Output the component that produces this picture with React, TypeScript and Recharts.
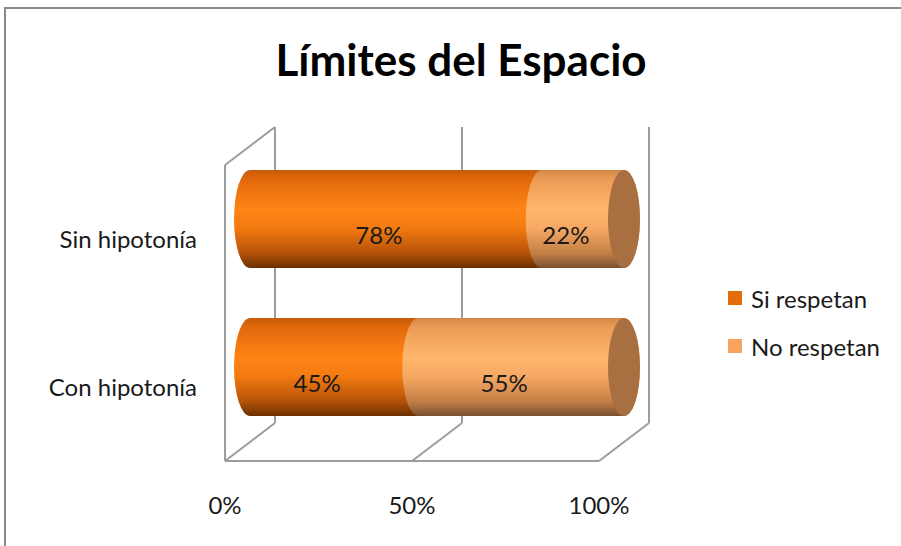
import React from 'react';
import { BarChart, Bar, XAxis, YAxis, CartesianGrid, Legend, LabelList } from 'recharts';

const categories = ['Sin hipotonía', 'Con hipotonía'];
const siRespetan = [78, 45];
const noRespetan = [22, 55];
const xTicks = [0, 50, 100];
const seriesNames = ['Si respetan', 'No respetan'];
const chartTitle = 'Límites del Espacio';

const data = categories.map((name, i) => ({ name, si: siRespetan[i], no: noRespetan[i] }));

const W = 901;
const H = 546;
const FONT = 'Lato, "Open Sans", sans-serif';
const WALL_DX = 50;
const WALL_DY = 38;
const BAR_DX = 25;
const BAR_DY = 20;
const CAP_RX = 16;
const LINE = '#9c9c9c';

const gridLine = (p: any) => {
  const x1 = p.x1;
  const top = Math.min(p.y1, p.y2);
  const bot = Math.max(p.y1, p.y2);
  const isFirst = p.index === 0 || Math.abs(x1 - p.x) < 1;
  return (
    <g key={`g-${x1}`}>
      <line x1={x1 + WALL_DX} y1={top - WALL_DY} x2={x1 + WALL_DX} y2={bot - WALL_DY} stroke={LINE} strokeWidth={2} />
      <line x1={x1 + WALL_DX} y1={bot - WALL_DY} x2={x1} y2={bot} stroke={LINE} strokeWidth={2} />
      {isFirst && (
        <>
          <line x1={x1} y1={top} x2={x1} y2={bot} stroke={LINE} strokeWidth={2} />
          <line x1={x1} y1={top} x2={x1 + WALL_DX} y2={top - WALL_DY} stroke={LINE} strokeWidth={2} />
        </>
      )}
    </g>
  );
};

const cylinderPath = (x0: number, x1: number, top: number, bot: number, ry: number) =>
  `M${x0},${top} L${x1},${top} A${CAP_RX},${ry} 0 0 1 ${x1},${bot} L${x0},${bot} A${CAP_RX},${ry} 0 0 1 ${x0},${top} Z`;

const makeShape = (gradId: string, endCap: boolean) => (props: any) => {
  const { x, y, width, height } = props;
  if (width == null || height == null) return <g />;
  const x0 = x + BAR_DX;
  const x1 = x + width + BAR_DX;
  const top = y - BAR_DY;
  const bot = y + height - BAR_DY;
  const ry = height / 2;
  return (
    <g>
      <path d={cylinderPath(x0, x1, top, bot, ry)} fill={`url(#${gradId})`} />
      {endCap && <ellipse cx={x1} cy={top + ry} rx={CAP_RX} ry={ry} fill="#A86F40" />}
    </g>
  );
};

const siShape = makeShape('gradSi', false);
const noShape = makeShape('gradNo', true);

const renderLabel = (props: any) => {
  const { x, y, width, height, value } = props;
  return (
    <text
      x={x + width / 2 + 8}
      y={y + height / 2 - 5}
      textAnchor="middle"
      dominantBaseline="central"
      fontFamily={FONT}
      fontSize={24}
      fill="#1a1a1a"
    >
      {`${value}%`}
    </text>
  );
};

const LegendContent = (props: any) => {
  const payload = [...(props.payload || [])].sort(
    (a: any, b: any) => seriesNames.indexOf(a.value) - seriesNames.indexOf(b.value)
  );
  return (
    <div style={{ fontFamily: FONT, fontSize: 24, color: '#1a1a1a' }}>
      {payload.map((e: any, i: number) => (
        <div key={i} style={{ display: 'flex', alignItems: 'center', height: 24, marginBottom: 24 }}>
          <div style={{ width: 14, height: 14, background: e.color, marginRight: 9 }} />
          <span style={{ whiteSpace: 'nowrap' }}>{e.value}</span>
        </div>
      ))}
    </div>
  );
};

export default function App() {
  return (
    <div style={{ position: 'absolute', left: 0, top: 0, width: W, height: H, background: '#fff', overflow: 'hidden' }}>
      <div style={{ position: 'absolute', left: 4, top: 7, width: W - 4, height: 2, background: '#8a8a8a' }} />
      <div style={{ position: 'absolute', left: 4, top: 7, width: 2, height: H - 7, background: '#8a8a8a' }} />
      <div
        style={{
          position: 'absolute',
          left: 0,
          top: 29,
          width: 922,
          textAlign: 'center',
          fontFamily: FONT,
          fontWeight: 700,
          fontSize: 44,
          lineHeight: '60px',
          color: '#000',
        }}
      >
        {chartTitle}
      </div>
      <div style={{ position: 'absolute', left: 0, top: 0 }}>
        <BarChart
          width={W}
          height={H}
          data={data}
          layout="vertical"
          margin={{ top: 165, right: W - 599, bottom: 25, left: 0 }}
          barSize={98}
        >
          <defs>
            <linearGradient id="gradSi" x1="0" y1="0" x2="0" y2="1">
              <stop offset="0" stopColor="#C85A08" />
              <stop offset="0.1" stopColor="#E26A0C" />
              <stop offset="0.4" stopColor="#FF8416" />
              <stop offset="0.6" stopColor="#F27A10" />
              <stop offset="0.85" stopColor="#B45208" />
              <stop offset="1" stopColor="#6B3000" />
            </linearGradient>
            <linearGradient id="gradNo" x1="0" y1="0" x2="0" y2="1">
              <stop offset="0" stopColor="#D48846" />
              <stop offset="0.1" stopColor="#EC9C56" />
              <stop offset="0.4" stopColor="#FFB66C" />
              <stop offset="0.6" stopColor="#F6A862" />
              <stop offset="0.85" stopColor="#C47F46" />
              <stop offset="1" stopColor="#7A5030" />
            </linearGradient>
          </defs>
          <CartesianGrid horizontal={false} vertical={gridLine} />
          <XAxis
            type="number"
            domain={[0, 100]}
            ticks={xTicks}
            tickFormatter={(v: number) => `${v}%`}
            axisLine={{ stroke: LINE, strokeWidth: 2 }}
            tickLine={false}
            tickSize={0}
            tickMargin={36}
            height={60}
            tick={{ fill: '#1a1a1a', fontSize: 24, fontFamily: FONT }}
            interval={0}
          />
          <YAxis
            type="category"
            dataKey="name"
            width={225}
            axisLine={false}
            tickLine={false}
            tickSize={0}
            tickMargin={28}
            tick={{ fill: '#1a1a1a', fontSize: 24, fontFamily: FONT }}
          />
          <Legend
            layout="vertical"
            align="center"
            verticalAlign="middle"
            content={<LegendContent />}
            wrapperStyle={{ left: 728, top: 286, width: 170 }}
          />
          <Bar dataKey="si" name={seriesNames[0]} stackId="a" fill="#E46C0A" shape={siShape} isAnimationActive={false}>
            <LabelList dataKey="si" content={renderLabel} />
          </Bar>
          <Bar dataKey="no" name={seriesNames[1]} stackId="a" fill="#F9A45E" shape={noShape} isAnimationActive={false}>
            <LabelList dataKey="no" content={renderLabel} />
          </Bar>
        </BarChart>
      </div>
    </div>
  );
}
